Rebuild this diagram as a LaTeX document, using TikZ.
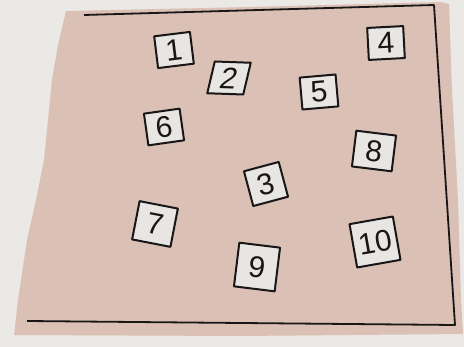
\documentclass[tikz,border=0pt]{standalone}
\usepackage{fontspec}
\setsansfont{Liberation Sans}
\usetikzlibrary{positioning}

\definecolor{desk}{RGB}{234,233,229}
\definecolor{paper}{RGB}{218,192,181}
\definecolor{card}{RGB}{232,230,227}
\definecolor{ink}{RGB}{24,22,22}

\begin{document}
\begin{tikzpicture}[x=1pt, y=-1pt, line join=round,
    tile/.style={draw=ink, line width=2pt, fill=card, inner sep=0pt,
      minimum width=36pt, minimum height=32pt,
      font=\sffamily\fontsize{30}{30}\selectfont, text=ink}]
  \useasboundingbox[fill=desk] (0,0) rectangle (464,347);
  % --- paper ---
  \fill[paper] (66,11) -- (250,7) -- (440,2) -- (449,4) -- (452,90)
    -- (458,200) -- (461,300) -- (463,334) -- (240,336) -- (14,335)
    -- (18,300) -- (27,240) -- (36,200) -- (44,160) -- (48,120)
    -- (52,80) -- (58,45) -- cycle;
  % --- frame ---
  \coordinate (tl) at (84,15);
  \coordinate (tr) at (434,5);
  \coordinate (br) at (455,325);
  \coordinate (bl) at (27,321);
  \draw[ink, line width=1.8pt] (tl) -- (tr) -- (br) -- (bl);
  % --- tiles ---
  \node[tile, rotate=7]                          (b1)  at (174,50)  {1};
  \node[tile, rotate=-2, xslant=0.2]             (b2)  at (229,78)  {2};
  \node[tile, rotate=15, minimum height=36pt]    (b3)  at (266,184) {3};
  \node[tile, rotate=3]                          (b4)  at (386,43)  {4};
  \node[tile, rotate=5]                          (b5)  at (319,92)  {5};
  \node[tile, rotate=8]                          (b6)  at (164,127) {6};
  \node[tile, rotate=-11, minimum size=39pt]     (b7)  at (155,224) {7};
  \node[tile, rotate=-7, minimum width=40pt, minimum height=36pt] (b8) at (374,151) {8};
  \node[tile, rotate=-7, minimum width=41pt, minimum height=44pt] (b9) at (257,267) {9};
  \node[tile, rotate=10, minimum width=44pt, minimum height=44pt] (b10) at (375,242) {10};
\end{tikzpicture}
\end{document}
